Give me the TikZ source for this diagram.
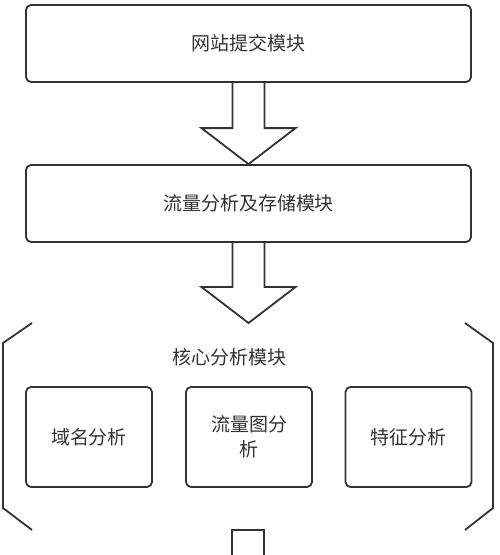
\documentclass[tikz,border=0pt]{standalone}
\usepackage{fontspec}
\setmainfont{Noto Sans CJK SC}
\usetikzlibrary{calc}
\definecolor{linegray}{HTML}{333333}
\tikzset{
  module/.style={draw=linegray, line width=1.8pt, rounded corners=5pt, minimum width=445pt, minimum height=77pt, text=linegray, font=\fontsize{19}{25}\selectfont},
  subbox/.style={module, minimum width=126pt, minimum height=100pt, align=center},
  fatline/.style={draw=linegray, line width=1.8pt, line join=miter},
}
\newcommand{\fatarrow}[2]{%
  \draw[fatline] let \p1=(#1), \p2=(#2) in
    ({\x1-16pt},\y1) -- ({\x1-16pt},{\y2+36pt}) -- ({\x1-47pt},{\y2+36pt}) -- (\x1,\y2)
    -- ({\x1+47pt},{\y2+36pt}) -- ({\x1+16pt},{\y2+36pt}) -- ({\x1+16pt},\y1);}

\begin{document}
\begin{tikzpicture}[x=1pt, y=-1pt]
\fill[white] (0,0) rectangle (500,555);
\useasboundingbox (0,0) rectangle (500,555);
\node[module] (submit) at (248.5,43.5) {网站提交模块};
\node[module] (store) at (248.5,203.5) {流量分析及存储模块};
\node[minimum width=490pt, minimum height=207pt, inner sep=0pt, outer sep=0pt] (core) at (248,426.5) {};
\node[text=linegray, font=\fontsize{19}{25}\selectfont] (coretitle) at (229,357) {核心分析模块};
\node[subbox] (domain) at (89,437) {域名分析};
\node[subbox] (graph) at (249,437) {流量图分\\析};
\node[subbox] (feature) at (408.5,437) {特征分析};
\fatarrow{submit.south}{store.north}
\fatarrow{store.south}{core.north}
\draw[fatline] ($(core.north west)+(29,0)$) -- ($(core.north west)+(0,20)$) -- ($(core.south west)+(0,-22)$) -- ($(core.south west)+(29,0)$);
\draw[fatline] ($(core.north east)+(-28,0)$) -- ($(core.north east)+(0,20)$) -- ($(core.south east)+(0,-22)$) -- ($(core.south east)+(-28,0)$);
\coordinate (cut) at (248.5,558);
\draw[fatline] let \p1=(core.south), \p2=(cut) in
  ({\x1-16pt},\y2) -- ({\x1-16pt},\y1) -- ({\x1+16pt},\y1) -- ({\x1+16pt},\y2);
\end{tikzpicture}
\end{document}
